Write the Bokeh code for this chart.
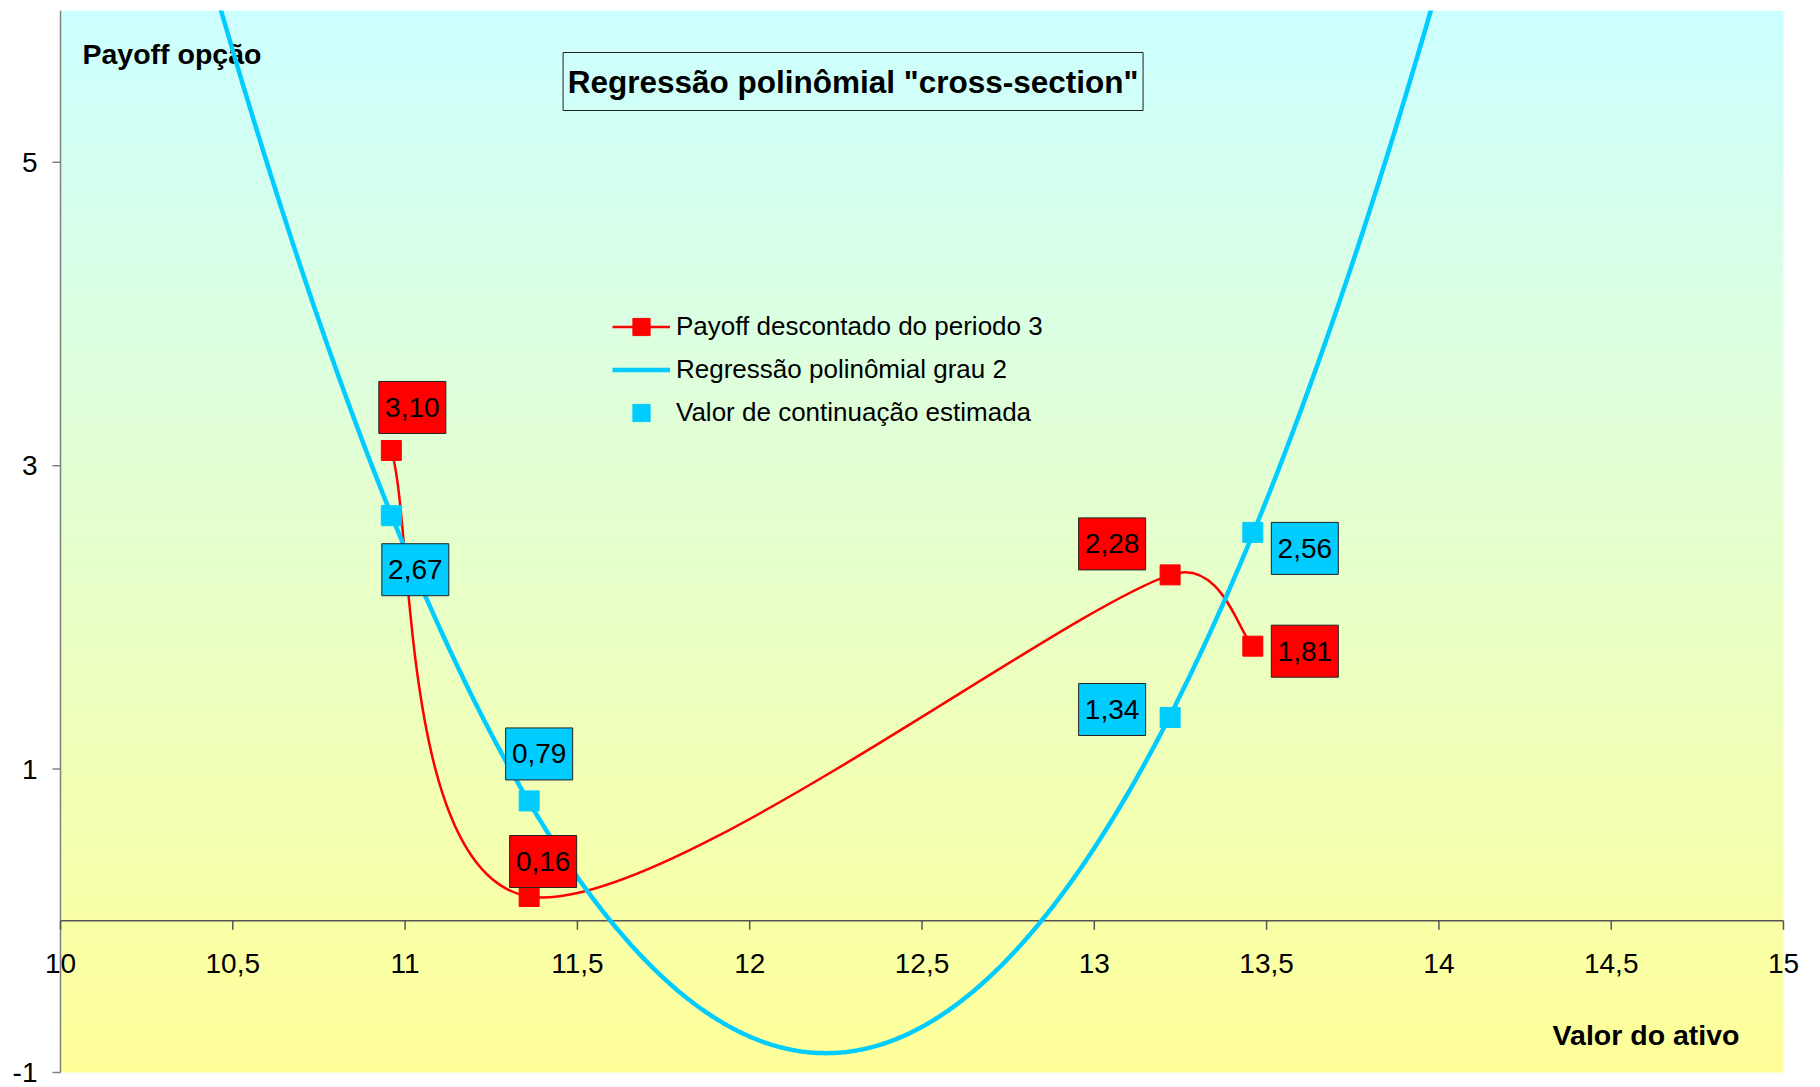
import numpy as np
from bokeh.plotting import figure
from bokeh.models import Legend, LegendItem
from bokeh.core.properties import value
from bokeh.embed import file_html
from bokeh.resources import INLINE

# ---------------- data ----------------
asset_values = [10.96, 11.36, 13.22, 13.46]
payoff_discounted = [3.10, 0.16, 2.28, 1.81]
continuation_est = [2.67, 0.79, 1.34, 2.56]
x_ticks = [10, 10.5, 11, 11.5, 12, 12.5, 13, 13.5, 14, 14.5, 15]
x_tick_labels = ["10", "10,5", "11", "11,5", "12", "12,5", "13", "13,5", "14", "14,5", "15"]
y_ticks = [-1, 1, 3, 5]
y_tick_labels = ["-1", "1", "3", "5"]

title_text = 'Regressão polinômial "cross-section"'
y_title = "Payoff opção"
x_title = "Valor do ativo"
legend_labels = ["Payoff descontado do periodo 3",
                 "Regressão polinômial grau 2",
                 "Valor de continuação estimada"]

# ---------------- layout / style ----------------
W, H = 1820, 1087
PL, PR, PT, PB = 60, 37, 10, 15          # plot-area margins in px
X0, X1, Y0, Y1 = 10, 15, -1, 6           # plot-area data extent
SX = (W - PL - PR) / (X1 - X0)
SY = (H - PT - PB) / (Y1 - Y0)

RED = "#FF0000"
BLUE = "#00CCFF"
FONT = "Liberation Sans"
AXC = "#555555"

# label box offsets (screen px, +right, +down)
red_label_offsets = [(21, -43), (14, -35), (-58, -31), (52, 5)]
blue_label_offsets = [(24, 54), (10, -47), (-58, -8), (52, 16)]

# frame covers the whole canvas below the top margin, so nothing gets clipped
p = figure(width=W, height=H,
           x_range=(X0 - PL / SX, X1 + PR / SX), y_range=(Y0 - PB / SY, Y1),
           output_backend="svg", toolbar_location=None,
           x_axis_location=None, y_axis_location=None,
           min_border_left=0, min_border_right=0, min_border_top=PT, min_border_bottom=0)
p.background_fill_color = "white"
p.border_fill_color = "white"
p.outline_line_color = None
p.xgrid.visible = False
p.ygrid.visible = False

# gradient background of plot area
NROW = 256
t = np.linspace(0, 1, NROW)  # 0 bottom, 1 top
top_c = np.array([204, 255, 255])
bot_c = np.array([255, 255, 153])
img = np.zeros((NROW, 2), dtype=np.uint32)
view = img.view(dtype=np.uint8).reshape((NROW, 2, 4))
for i in range(NROW):
    c = bot_c + (top_c - bot_c) * t[i]
    view[i, :, 0] = int(round(c[0]))
    view[i, :, 1] = int(round(c[1]))
    view[i, :, 2] = int(round(c[2]))
    view[i, :, 3] = 255
p.image_rgba(image=[img], x=X0, y=Y0, dw=X1 - X0, dh=Y1 - Y0)

# axis titles
p.text(x=[X0 + 22 / SX], y=[Y1 - 43 / SY], text=[y_title], text_font=value(FONT),
       text_font_size="28.5px", text_font_style="bold", text_align="left",
       text_baseline="middle", text_color="black")
p.text(x=[X1 - 44 / SX], y=[Y0 + 38 / SY], text=[x_title], text_font=value(FONT),
       text_font_size="28.5px", text_font_style="bold", text_align="right",
       text_baseline="middle", text_color="black")

# y axis (drawn manually at x = X0)
p.segment(x0=[X0], y0=[Y0], x1=[X0], y1=[Y1], line_color="#808080", line_width=1.5)
p.segment(x0=[X0 - 8 / SX] * len(y_ticks), y0=y_ticks, x1=[X0] * len(y_ticks), y1=y_ticks,
          line_color="#808080", line_width=1.5)
p.text(x=[X0 - 23 / SX] * len(y_ticks), y=y_ticks, text=y_tick_labels, text_font=value(FONT),
       text_font_size="28px", text_align="right", text_baseline="middle", text_color="black")

# x axis crossing at y = 0
p.segment(x0=[X0], y0=[0], x1=[X1], y1=[0], line_color=AXC, line_width=1.5)
p.segment(x0=x_ticks, y0=[0] * len(x_ticks), x1=x_ticks, y1=[-9 / SY] * len(x_ticks),
          line_color=AXC, line_width=1.5)
p.text(x=x_ticks, y=[-43 / SY] * len(x_ticks), text=x_tick_labels, text_font=value(FONT),
       text_font_size="28px", text_align="center", text_baseline="middle", text_color="black")

# red smoothed line (Excel-style bezier smoothing in pixel space)
P = [np.array([x * SX, y * SY]) for x, y in zip(asset_values, payoff_discounted)]
n = len(P)
bx0, by0, bx1, by1, cx0, cy0, cx1, cy1 = [], [], [], [], [], [], [], []
for i in range(n - 1):
    p0 = P[i - 1] if i > 0 else P[i]
    p1 = P[i]
    p2 = P[i + 1]
    p3 = P[i + 2] if i + 2 < n else P[i + 1]
    d02 = np.linalg.norm(p2 - p0)
    d12 = np.linalg.norm(p2 - p1)
    d13 = np.linalg.norm(p3 - p1)
    f0 = 1 / 6 if d02 / 6 < d12 / 2 else d12 / (2 * d02)
    f1 = 1 / 6 if d13 / 6 < d12 / 2 else d12 / (2 * d13)
    c1 = p1 + (p2 - p0) * f0
    c2 = p2 - (p3 - p1) * f1
    bx0.append(p1[0] / SX); by0.append(p1[1] / SY)
    bx1.append(p2[0] / SX); by1.append(p2[1] / SY)
    cx0.append(c1[0] / SX); cy0.append(c1[1] / SY)
    cx1.append(c2[0] / SX); cy1.append(c2[1] / SY)
red_curve = p.bezier(x0=bx0, y0=by0, x1=bx1, y1=by1, cx0=cx0, cy0=cy0, cx1=cx1, cy1=cy1,
                     line_color=RED, line_width=2.5)
red_pts = p.scatter(x=asset_values, y=payoff_discounted, marker="square", size=20,
                    fill_color=RED, line_color=RED)

# blue regression (degree 2 fit), limited to the plot area
coef = np.polyfit(asset_values, continuation_est, 2)
xs = np.arange(10.3, 14.2, 0.005)
ys = np.polyval(coef, xs)
keep = ys <= Y1 + 0.05
blue_line = p.line(x=xs[keep], y=ys[keep], line_color=BLUE, line_width=4.5)
blue_pts = p.scatter(x=asset_values, y=continuation_est, marker="square", size=20,
                     fill_color=BLUE, line_color=BLUE)

# data labels
def fmt(v):
    return f"{v:.2f}".replace(".", ",")

def add_labels(vals, offs, color):
    lx = [x + o[0] / SX for x, o in zip(asset_values, offs)]
    ly = [y - o[1] / SY for y, o in zip(vals, offs)]
    p.rect(x=lx, y=ly, width=67, height=52, width_units="screen", height_units="screen",
           fill_color=color, line_color="#222222", line_width=1)
    p.text(x=lx, y=ly, text=[fmt(v) for v in vals], text_font=value(FONT), text_font_size="28px",
           text_align="center", text_baseline="middle", text_color="black")

add_labels(payoff_discounted, red_label_offsets, RED)
add_labels(continuation_est, blue_label_offsets, BLUE)

# chart title in box
tx, ty = 12.30, Y1 - 71 / SY
p.rect(x=[tx], y=[ty], width=580, height=58, width_units="screen", height_units="screen",
       fill_color=None, line_color="#222222", line_width=1)
p.text(x=[tx], y=[ty], text=[title_text], text_font=value(FONT), text_font_size="31.5px",
       text_font_style="bold", text_align="center", text_baseline="middle", text_color="black")

# legend
legend = Legend(items=[
    LegendItem(label=legend_labels[0], renderers=[red_curve, red_pts]),
    LegendItem(label=legend_labels[1], renderers=[blue_line]),
    LegendItem(label=legend_labels[2], renderers=[blue_pts]),
], location=(612, H - 434), orientation="vertical", glyph_width=58, glyph_height=43,
    label_height=43, label_standoff=6, spacing=0, padding=0, margin=0,
    label_text_font=FONT, label_text_font_size="26px", label_text_color="black",
    background_fill_alpha=0, border_line_alpha=0)
p.add_layout(legend)

open("out.html", "w").write(file_html(p, INLINE))
